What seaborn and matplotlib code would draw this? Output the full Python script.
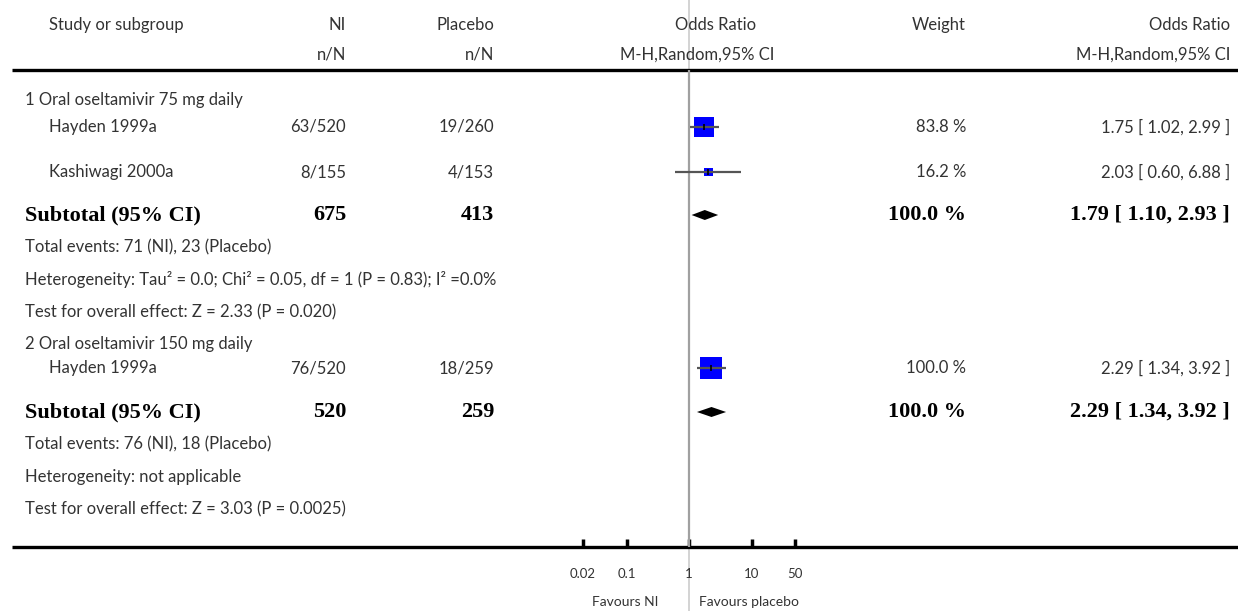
import matplotlib
matplotlib.use("Agg")
import matplotlib.pyplot as plt
import matplotlib.transforms as mtransforms
from matplotlib.lines import Line2D
import seaborn as sns
import pandas as pd

# ---------------- data ----------------
studies = ["Hayden 1999a", "Kashiwagi 2000a", "Hayden 1999a"]
ni_events = ["63/520", "8/155", "76/520"]
pl_events = ["19/260", "4/153", "18/259"]
or_est = [1.75, 2.03, 2.29]
or_lo = [1.02, 0.60, 1.34]
or_hi = [2.99, 6.88, 3.92]
weights = [83.8, 16.2, 100.0]

groups = ["1 Oral oseltamivir 75 mg daily", "2 Oral oseltamivir 150 mg daily"]
sub_ni_total = [675, 520]
sub_pl_total = [413, 259]
sub_or = [1.79, 2.29]
sub_lo = [1.10, 1.34]
sub_hi = [2.93, 3.92]
sub_weight = [100.0, 100.0]
total_events = ["Total events: 71 (NI), 23 (Placebo)",
                "Total events: 76 (NI), 18 (Placebo)"]
heterogeneity = ["Heterogeneity: Tau\u00b2 = 0.0; Chi\u00b2 = 0.05, df = 1 (P = 0.83); I\u00b2 =0.0%",
                 "Heterogeneity: not applicable"]
overall_effect = ["Test for overall effect: Z = 2.33 (P = 0.020)",
                  "Test for overall effect: Z = 3.03 (P = 0.0025)"]

tick_values = [0.02, 0.1, 1, 10, 50]
tick_labels = ["0.02", "0.1", "1", "10", "50"]
favours = ["Favours NI", "Favours placebo"]

# ---------------- layout (pixels) ----------------
W, H = 1238, 611
study_y = [127, 172, 368]
group_y = [100, 344]
sub_y = [215, 412]
events_y = [247, 444]
het_y = [280, 477]
test_y = [312, 509]
header_line_y = 70
axis_line_y = 547
x_study = 49
x_group = 25
x_ni = 346
x_pl = 494
x_weight = 966
x_ci = 1230
forest_left, forest_right = 564, 814

sns.set_theme(style="white")
plt.rcParams["font.family"] = ["Lato", "DejaVu Sans"]
TXT = "#333333"
REG = dict(fontsize=12, color=TXT, va="center")
BOLD = dict(fontsize=16, color="black", va="center", family=["Liberation Serif", "DejaVu Serif"],
            fontweight="bold")

fig = plt.figure(figsize=(W / 100, H / 100), dpi=100)
tax = fig.add_axes([0, 0, 1, 1])
tax.set_xlim(0, W)
tax.set_ylim(H, 0)
tax.axis("off")

fax = fig.add_axes([forest_left / W, (H - axis_line_y) / H,
                    (forest_right - forest_left) / W, axis_line_y / H])
fax.set_facecolor("none")

# vertical line of no effect
trans = mtransforms.blended_transform_factory(fax.transData, fig.transFigure)
fig.add_artist(Line2D([1, 1], [0, 1], transform=trans, color="#d0d0d0", lw=1.3, zorder=0))
fax.vlines(1, header_line_y, axis_line_y, color="#a0a0a0", lw=1.6, zorder=1)

# study squares
df = pd.DataFrame({"or": or_est, "w": weights, "y": study_y})
smax = 251.0
sns.scatterplot(data=df, x="or", y="y", size="w", sizes=(smax * min(weights) / 100, smax),
                size_norm=(min(weights), 100), marker="s", color="#0000ff", edgecolor="none",
                legend=False, ax=fax, zorder=3)
fax.hlines(study_y, or_lo, or_hi, color="#555555", lw=1.6, zorder=4)
fax.plot(or_est, study_y, ls="none", marker="|", ms=5, mew=1.2, color="black", zorder=5)

# subtotal diamonds
for y, lo, est, hi in zip(sub_y, sub_lo, sub_or, sub_hi):
    fax.fill([lo, est, hi, est], [y, y - 5, y, y + 5], color="black", lw=0, zorder=3)

fax.set_xscale("log")
fax.set_xlim(0.01, 100)
fax.set_ylim(axis_line_y, 0)
for s in fax.spines.values():
    s.set_visible(False)
fax.set_xlabel("")
fax.set_ylabel("")
fax.set_yticks([])
fax.set_xticks(tick_values)
fax.set_xticklabels(tick_labels)
fax.minorticks_off()
fax.tick_params(axis="x", bottom=True, direction="in", length=6, width=2.5, color="black",
                pad=15, labelsize=9.5, labelcolor=TXT)

# header
tax.text(x_study, 25, "Study or subgroup", ha="left", **REG)
tax.text(x_ni, 25, "NI", ha="right", **REG)
tax.text(x_ni, 55, "n/N", ha="right", **REG)
tax.text(x_pl, 25, "Placebo", ha="right", **REG)
tax.text(x_pl, 55, "n/N", ha="right", **REG)
tax.text(716, 25, "Odds Ratio", ha="center", **REG)
tax.text(697, 55, "M-H,Random,95% CI", ha="center", **REG)
tax.text(x_weight, 25, "Weight", ha="right", **REG)
tax.text(x_ci, 25, "Odds Ratio", ha="right", **REG)
tax.text(x_ci, 55, "M-H,Random,95% CI", ha="right", **REG)
tax.hlines(header_line_y, 12, W, color="black", lw=2.4)
tax.hlines(axis_line_y, 12, W, color="black", lw=2.4)

# study rows
for i, y in enumerate(study_y):
    tax.text(x_study, y, studies[i], ha="left", **REG)
    tax.text(x_ni, y, ni_events[i], ha="right", **REG)
    tax.text(x_pl, y, pl_events[i], ha="right", **REG)
    tax.text(x_weight, y, f"{weights[i]:.1f} %", ha="right", **REG)
    tax.text(x_ci, y, f"{or_est[i]:.2f} [ {or_lo[i]:.2f}, {or_hi[i]:.2f} ]", ha="right", **REG)

# subgroup rows
for g in range(len(groups)):
    tax.text(x_group, group_y[g], groups[g], ha="left", **REG)
    tax.text(x_group, sub_y[g], "Subtotal (95% CI)", ha="left", **BOLD)
    tax.text(x_ni, sub_y[g], f"{sub_ni_total[g]}", ha="right", **BOLD)
    tax.text(x_pl, sub_y[g], f"{sub_pl_total[g]}", ha="right", **BOLD)
    tax.text(x_weight, sub_y[g], f"{sub_weight[g]:.1f} %", ha="right", **BOLD)
    tax.text(x_ci, sub_y[g], f"{sub_or[g]:.2f} [ {sub_lo[g]:.2f}, {sub_hi[g]:.2f} ]", ha="right", **BOLD)
    tax.text(x_group, events_y[g], total_events[g], ha="left", **REG)
    tax.text(x_group, het_y[g], heterogeneity[g], ha="left", **REG)
    tax.text(x_group, test_y[g], overall_effect[g], ha="left", **REG)

# favours labels
ftrans = mtransforms.blended_transform_factory(fax.transData, tax.transData)
tax.text(0.32, 602, favours[0], ha="right", va="center", fontsize=10, color=TXT, transform=ftrans)
tax.text(1.45, 602, favours[1], ha="left", va="center", fontsize=10, color=TXT, transform=ftrans)

fig.savefig("out.png", dpi=100)
